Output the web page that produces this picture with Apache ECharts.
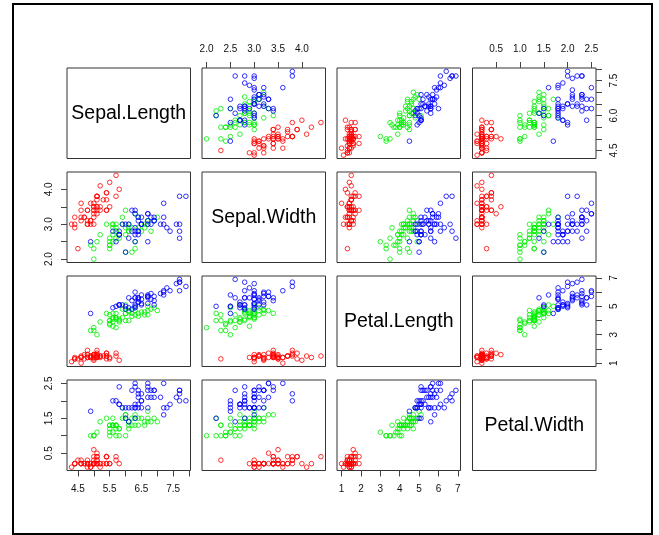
<!DOCTYPE html>
<html>
<head>
<meta charset="utf-8">
<title>iris pairs</title>
<script src="https://cdn.jsdelivr.net/npm/echarts@6/dist/echarts.min.js"></script>
<style>
  html, body { margin: 0; padding: 0; background: #fff; }
  #main { width: 659px; height: 535px; }
</style>
</head>
<body>
<div id="main"></div>
<script>
// variable names shown on the diagonal
const varNames = ['Sepal.Length', 'Sepal.Width', 'Petal.Length', 'Petal.Width']
const speciesColors = ['#ff0000', '#00ee00', '#0000ff']

// iris: setosa
const setosaSL = [5.1,4.9,4.7,4.6,5.0,5.4,4.6,5.0,4.4,4.9,5.4,4.8,4.8,4.3,5.8,5.7,5.4,5.1,5.7,5.1,5.4,5.1,4.6,5.1,4.8,5.0,5.0,5.2,5.2,4.7,4.8,5.4,5.2,5.5,4.9,5.0,5.5,4.9,4.4,5.1,5.0,4.5,4.4,5.0,5.1,4.8,5.1,4.6,5.3,5.0]
const setosaSW = [3.5,3.0,3.2,3.1,3.6,3.9,3.4,3.4,2.9,3.1,3.7,3.4,3.0,3.0,4.0,4.4,3.9,3.5,3.8,3.8,3.4,3.7,3.6,3.3,3.4,3.0,3.4,3.5,3.4,3.2,3.1,3.4,4.1,4.2,3.1,3.2,3.5,3.6,3.0,3.4,3.5,2.3,3.2,3.5,3.8,3.0,3.8,3.2,3.7,3.3]
const setosaPL = [1.4,1.4,1.3,1.5,1.4,1.7,1.4,1.5,1.4,1.5,1.5,1.6,1.4,1.1,1.2,1.5,1.3,1.4,1.7,1.5,1.7,1.5,1.0,1.7,1.9,1.6,1.6,1.5,1.4,1.6,1.6,1.5,1.5,1.4,1.5,1.2,1.3,1.4,1.3,1.5,1.3,1.3,1.3,1.6,1.9,1.4,1.6,1.4,1.5,1.4]
const setosaPW = [0.2,0.2,0.2,0.2,0.2,0.4,0.3,0.2,0.2,0.1,0.2,0.2,0.1,0.1,0.2,0.4,0.4,0.3,0.3,0.3,0.2,0.4,0.2,0.5,0.2,0.2,0.4,0.2,0.2,0.2,0.2,0.4,0.1,0.2,0.2,0.2,0.2,0.1,0.2,0.2,0.3,0.3,0.2,0.6,0.4,0.3,0.2,0.2,0.2,0.2]

// iris: versicolor
const versicolorSL = [7.0,6.4,6.9,5.5,6.5,5.7,6.3,4.9,6.6,5.2,5.0,5.9,6.0,6.1,5.6,6.7,5.6,5.8,6.2,5.6,5.9,6.1,6.3,6.1,6.4,6.6,6.8,6.7,6.0,5.7,5.5,5.5,5.8,6.0,5.4,6.0,6.7,6.3,5.6,5.5,5.5,6.1,5.8,5.0,5.6,5.7,5.7,6.2,5.1,5.7]
const versicolorSW = [3.2,3.2,3.1,2.3,2.8,2.8,3.3,2.4,2.9,2.7,2.0,3.0,2.2,2.9,2.9,3.1,3.0,2.7,2.2,2.5,3.2,2.8,2.5,2.8,2.9,3.0,2.8,3.0,2.9,2.6,2.4,2.4,2.7,2.7,3.0,3.4,3.1,2.3,3.0,2.5,2.6,3.0,2.6,2.3,2.7,3.0,2.9,2.9,2.5,2.8]
const versicolorPL = [4.7,4.5,4.9,4.0,4.6,4.5,4.7,3.3,4.6,3.9,3.5,4.2,4.0,4.7,3.6,4.4,4.5,4.1,4.5,3.9,4.8,4.0,4.9,4.7,4.3,4.4,4.8,5.0,4.5,3.5,3.8,3.7,3.9,5.1,4.5,4.5,4.7,4.4,4.1,4.0,4.4,4.6,4.0,3.3,4.2,4.2,4.2,4.3,3.0,4.1]
const versicolorPW = [1.4,1.5,1.5,1.3,1.5,1.3,1.6,1.0,1.3,1.4,1.0,1.5,1.0,1.4,1.3,1.4,1.5,1.0,1.5,1.1,1.8,1.3,1.5,1.2,1.3,1.4,1.4,1.7,1.5,1.0,1.1,1.0,1.2,1.6,1.5,1.6,1.5,1.3,1.3,1.3,1.2,1.4,1.2,1.0,1.3,1.2,1.3,1.3,1.1,1.3]

// iris: virginica
const virginicaSL = [6.3,5.8,7.1,6.3,6.5,7.6,4.9,7.3,6.7,7.2,6.5,6.4,6.8,5.7,5.8,6.4,6.5,7.7,7.7,6.0,6.9,5.6,7.7,6.3,6.7,7.2,6.2,6.1,6.4,7.2,7.4,7.9,6.4,6.3,6.1,7.7,6.3,6.4,6.0,6.9,6.7,6.9,5.8,6.8,6.7,6.7,6.3,6.5,6.2,5.9]
const virginicaSW = [3.3,2.7,3.0,2.9,3.0,3.0,2.5,2.9,2.5,3.6,3.2,2.7,3.0,2.5,2.8,3.2,3.0,3.8,2.6,2.2,3.2,2.8,2.8,2.7,3.3,3.2,2.8,3.0,2.8,3.0,2.8,3.8,2.8,2.8,2.6,3.0,3.4,3.1,3.0,3.1,3.1,3.1,2.7,3.2,3.3,3.0,2.5,3.0,3.4,3.0]
const virginicaPL = [6.0,5.1,5.9,5.6,5.8,6.6,4.5,6.3,5.8,6.1,5.1,5.3,5.5,5.0,5.1,5.3,5.5,6.7,6.9,5.0,5.7,4.9,6.7,4.9,5.7,6.0,4.8,4.9,5.6,5.8,6.1,6.4,5.6,5.1,5.6,6.1,5.6,5.5,4.8,5.4,5.6,5.1,5.1,5.9,5.7,5.2,5.0,5.2,5.4,5.1]
const virginicaPW = [2.5,1.9,2.1,1.8,2.2,2.1,1.7,1.8,1.8,2.5,2.0,1.9,2.1,2.0,2.4,2.3,1.8,2.2,2.3,1.5,2.3,2.0,2.0,1.8,2.1,1.8,1.8,1.8,2.1,1.6,1.9,2.0,2.2,1.5,1.4,2.3,2.4,1.8,1.8,2.1,2.4,2.3,1.9,2.3,2.5,2.3,1.9,2.0,2.3,1.8]

// tick positions and labelled ticks, per variable
const tickValues = [
  [4.5, 5.0, 5.5, 6.0, 6.5, 7.0, 7.5, 8.0],
  [2.0, 2.5, 3.0, 3.5, 4.0],
  [1, 2, 3, 4, 5, 6, 7],
  [0.5, 1.0, 1.5, 2.0, 2.5]
]
const xLabelValues = [
  [4.5, 5.5, 6.5, 7.5],
  [2.0, 2.5, 3.0, 3.5, 4.0],
  [1, 2, 3, 4, 5, 6, 7],
  [0.5, 1.0, 1.5, 2.0, 2.5]
]
const yLabelValues = [
  [4.5, 6.0, 7.5],
  [2.0, 3.0, 4.0],
  [1, 3, 5, 7],
  [0.5, 1.5, 2.5]
]
const labelDigits = [1, 1, 0, 1]

const bySpecies = [
  [setosaSL, setosaSW, setosaPL, setosaPW],
  [versicolorSL, versicolorSW, versicolorPL, versicolorPW],
  [virginicaSL, virginicaSW, virginicaPL, virginicaPW]
]

// panel layout
const colLeft = [67, 202, 337, 472.5]
const rowTop = [68, 172, 276, 380]
const panelW = 123.5
const panelH = 90.5
const FONT = '"Liberation Sans", Arial, sans-serif'

// R style range: data range padded by 4%
function axisRange (v) {
  let lo = Infinity, hi = -Infinity
  bySpecies.forEach(sp => sp[v].forEach(d => { lo = Math.min(lo, d); hi = Math.max(hi, d) }))
  const pad = (hi - lo) * 0.04
  return [lo - pad, hi + pad]
}
const ranges = varNames.map((n, v) => axisRange(v))

const grids = [], xAxes = [], yAxes = [], series = [], graphics = []

for (let i = 0; i < 4; i++) {
  for (let j = 0; j < 4; j++) {
    const k = i * 4 + j
    grids.push({
      left: colLeft[j], top: rowTop[i], width: panelW, height: panelH,
      show: true, borderColor: '#333', borderWidth: 1, backgroundColor: 'transparent'
    })
    const diag = i === j
    // x axis: top on row 0 (odd cols), bottom on row 3 (even cols)
    const showTop = i === 0 && j % 2 === 1
    const showBottom = i === 3 && j % 2 === 0
    const showX = !diag && (showTop || showBottom)
    xAxes.push({
      type: 'value', gridIndex: k,
      min: ranges[j][0], max: ranges[j][1],
      position: showTop ? 'top' : 'bottom',
      show: showX,
      axisLine: { show: false },
      splitLine: { show: false },
      axisTick: { show: true, length: 6, lineStyle: { color: '#444' }, customValues: tickValues[j] },
      axisLabel: {
        show: true, margin: 14, fontSize: 10, color: '#111', fontFamily: FONT,
        customValues: xLabelValues[j],
        formatter: val => Number(val).toFixed(labelDigits[j])
      }
    })
    // y axis: left on col 0 (odd rows), right on col 3 (even rows)
    const showLeft = j === 0 && i % 2 === 1
    const showRight = j === 3 && i % 2 === 0
    const showY = !diag && (showLeft || showRight)
    yAxes.push({
      type: 'value', gridIndex: k,
      min: ranges[i][0], max: ranges[i][1],
      position: showRight ? 'right' : 'left',
      show: showY,
      axisLine: { show: false },
      splitLine: { show: false },
      axisTick: { show: true, length: 6, lineStyle: { color: '#444' }, customValues: tickValues[i] },
      axisLabel: {
        show: true, margin: 13, fontSize: 10, color: '#111', fontFamily: FONT, rotate: 90,
        customValues: yLabelValues[i],
        formatter: val => Number(val).toFixed(labelDigits[i])
      }
    })

    if (diag) {
      graphics.push({
        type: 'text',
        x: colLeft[j] + panelW / 2, y: rowTop[i] + panelH / 2,
        style: {
          text: varNames[i], font: '19.5px ' + FONT, fill: '#000',
          align: 'center', verticalAlign: 'middle'
        }
      })
      continue
    }

    bySpecies.forEach((sp, s) => {
      series.push({
        type: 'scatter', xAxisIndex: k, yAxisIndex: k,
        symbol: 'circle', symbolSize: 4.6,
        silent: true, animation: false,
        itemStyle: { color: 'rgba(0,0,0,0)', borderColor: speciesColors[s], borderWidth: 1 },
        data: sp[j].map((x, n) => [x, sp[i][n]])
      })
    })
  }
}

// outer frame
graphics.push({
  type: 'rect',
  shape: { x: 13, y: 4, width: 639, height: 530 },
  style: { fill: 'none', stroke: '#000', lineWidth: 2 }
})

const chart = echarts.init(document.getElementById('main'), null, { renderer: 'canvas' })
chart.setOption({
  backgroundColor: '#fff',
  animation: false,
  grid: grids,
  xAxis: xAxes,
  yAxis: yAxes,
  graphic: graphics,
  series: series
})
</script>
</body>
</html>
